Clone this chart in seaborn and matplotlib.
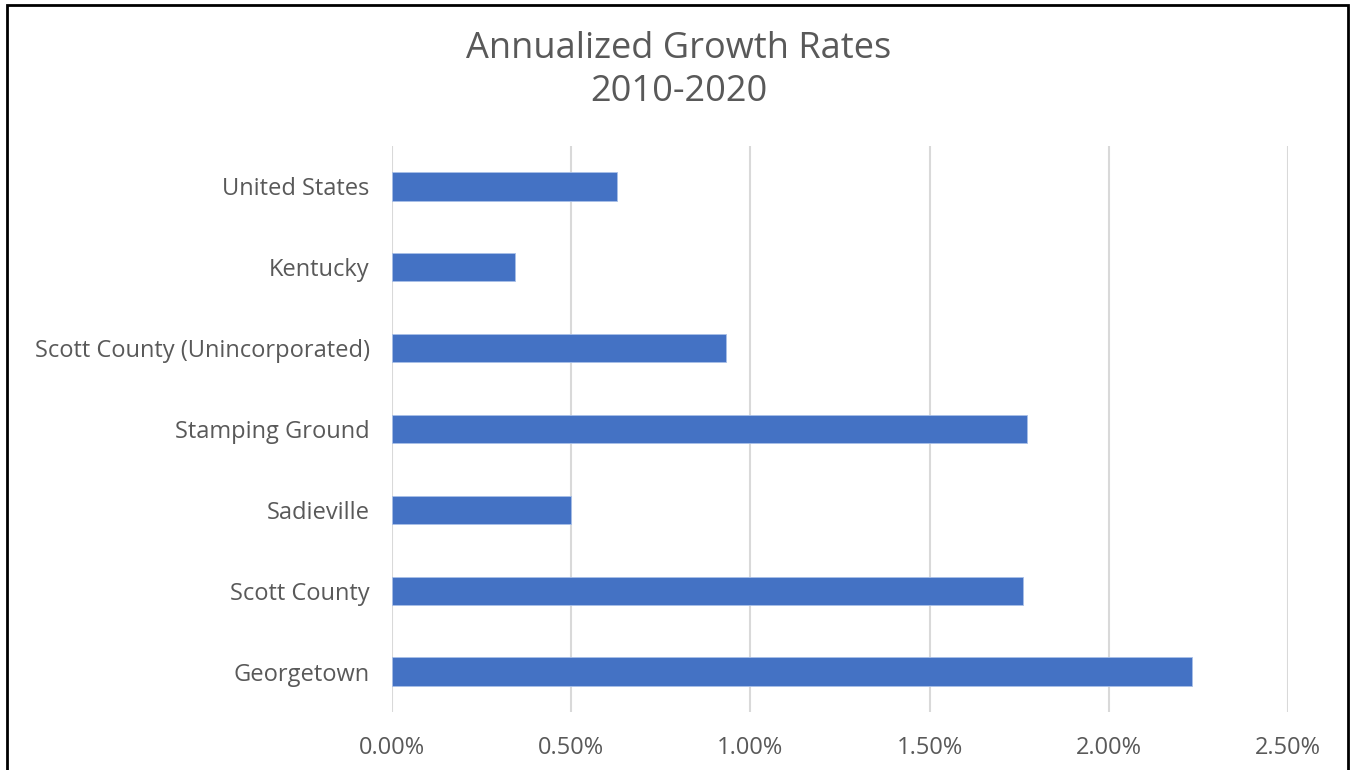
import matplotlib
matplotlib.use("Agg")
import matplotlib.pyplot as plt
from matplotlib.patches import Rectangle
from matplotlib.ticker import FuncFormatter, MultipleLocator
import pandas as pd
import seaborn as sns

# Annualized growth rates, 2010-2020 (percent)
places = [
    "United States",
    "Kentucky",
    "Scott County (Unincorporated)",
    "Stamping Ground",
    "Sadieville",
    "Scott County",
    "Georgetown",
]
growth_pct = [0.629, 0.343, 0.932, 1.773, 0.499, 1.761, 2.231]

df = pd.DataFrame({"place": places, "growth": growth_pct})

sns.set_theme(style="white")
plt.rcParams["font.family"] = ["Open Sans", "DejaVu Sans"]

text_color = "#595959"
bar_color = "#4472C4"
grid_color = "#D9D9D9"

fig = plt.figure(figsize=(13.53, 7.70), dpi=100)
ax = fig.add_axes([0.2897, 0.0753, 0.952 - 0.2897, 0.8104 - 0.0753])

sns.barplot(data=df, x="growth", y="place", orient="h", color=bar_color,
            saturation=1, width=0.35, ax=ax, edgecolor="#A9C0E8", linewidth=0.6)

ax.set_xlim(0, 2.5)
ax.set_ylim(6.5, -0.5)
ax.xaxis.set_major_locator(MultipleLocator(0.5))
ax.xaxis.set_major_formatter(FuncFormatter(lambda v, _: f"{v:.2f}%"))
ax.grid(axis="x", color=grid_color, linewidth=1.5)
ax.set_axisbelow(True)
for side in ["top", "right", "bottom", "left"]:
    ax.spines[side].set_visible(False)
ax.tick_params(axis="both", length=0, labelcolor=text_color, labelsize=17)
ax.tick_params(axis="x", pad=17)
ax.tick_params(axis="y", pad=16)
ax.set_xlabel("")
ax.set_ylabel("")

fig.text(0.5015, 0.936, "Annualized Growth Rates", ha="center", va="center",
         fontsize=26, color=text_color)
fig.text(0.5015, 0.881, "2010-2020", ha="center", va="center",
         fontsize=26, color=text_color)

# Chart frame
fig.patches.append(Rectangle((7 / 1353, -0.05), (1348 - 7) / 1353, 1.05 - 5 / 770,
                             transform=fig.transFigure, fill=False,
                             edgecolor="black", linewidth=2))

fig.savefig("out.png", dpi=100)
